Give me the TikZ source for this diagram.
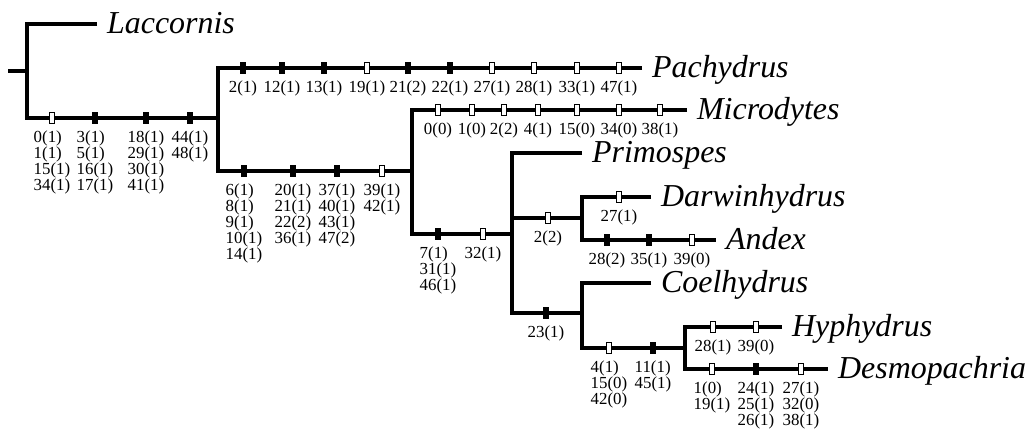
\documentclass[tikz,border=0pt]{standalone}
\usepackage{fontspec}
\setmainfont{Liberation Serif}
\usetikzlibrary{positioning}
\tikzset{branch/.style={line width=2.4pt}}
\begin{document}
\begin{tikzpicture}[x=.025cm,y=-.025cm,
  fillbar/.style={draw,fill=black,line width=.8pt,inner sep=0pt,minimum width=3.6pt,minimum height=7.6pt},
  openbar/.style={fillbar,fill=white},
  chars/.style={font=\fontsize{12}{11.4}\selectfont,align=left,inner sep=0pt,label distance=4.5pt},
  taxon/.style={anchor=west,inner xsep=7pt,inner ysep=0pt,font=\fontsize{22.7}{24}\selectfont\itshape,text height=15pt,text depth=2pt}]
\useasboundingbox (0,0) rectangle (1035,430);
\coordinate (base) at (8,71);
\coordinate (n0) at (27,71);
\coordinate (n1) at (218,118);
\coordinate (n2) at (412,171);
\coordinate (n3) at (512,234);
\coordinate (n4) at (582,218);
\coordinate (n5) at (582,313);
\coordinate (n6) at (685,348);
\node[taxon] (lac) at (97,24) {Laccornis};
\node[taxon] (pach) at (642,68) {Pachydrus};
\node[taxon] (micro) at (687,110) {Microdytes};
\node[taxon] (prim) at (582,153) {Primospes};
\node[taxon] (darw) at (651,197) {Darwinhydrus};
\node[taxon] (andex) at (716,240) {Andex};
\node[taxon] (coel) at (651,283) {Coelhydrus};
\node[taxon] (hyph) at (782,327) {Hyphydrus};
\node[taxon] (desmo) at (828,369) {Desmopachria};
\draw[branch] (base) -- (n0);
\draw[branch] (lac.west) -| (n0) |- (n1);
\draw[branch] (pach.west) -| (n1) |- (n2);
\draw[branch] (micro.west) -| (n2) |- (n3);
\draw[branch] (prim.west) -| (n3) |- (n5);
\draw[branch] (n3) |- (n4);
\draw[branch] (darw.west) -| (n4) |- (andex.west);
\draw[branch] (coel.west) -| (n5) |- (n6);
\draw[branch] (hyph.west) -| (n6) |- (desmo.west);
\foreach \x/\y/\s/\t [count=\i] in {
  52/118/openbar/{0(1)\\1(1)\\15(1)\\34(1)},95/118/fillbar/{3(1)\\5(1)\\16(1)\\17(1)},
  146/118/fillbar/{18(1)\\29(1)\\30(1)\\41(1)},190/118/fillbar/{44(1)\\48(1)},
  243/68/fillbar/2(1),282/68/fillbar/12(1),324/68/fillbar/13(1),367/68/openbar/19(1),
  408/68/fillbar/21(2),450/68/fillbar/22(1),492/68/openbar/27(1),534/68/openbar/28(1),
  577/68/openbar/33(1),619/68/openbar/47(1),
  244/171/fillbar/{6(1)\\8(1)\\9(1)\\10(1)\\14(1)},293/171/fillbar/{20(1)\\21(1)\\22(2)\\36(1)},
  337/171/fillbar/{37(1)\\40(1)\\43(1)\\47(2)},382/171/openbar/{39(1)\\42(1)},
  438/110/openbar/0(0),472/110/openbar/1(0),504/110/openbar/2(2),538/110/openbar/4(1),
  577/110/openbar/15(0),619/110/openbar/34(0),660/110/openbar/38(1),
  438/234/fillbar/{7(1)\\31(1)\\46(1)},483/234/openbar/32(1),
  548/218/openbar/2(2),619/197/openbar/27(1),
  607/240/fillbar/28(2),649/240/fillbar/35(1),692/240/openbar/39(0),
  546/313/fillbar/23(1),
  609/348/openbar/{4(1)\\15(0)\\42(0)},653/348/fillbar/{11(1)\\45(1)},
  713/327/openbar/28(1),756/327/openbar/39(0),
  712/369/openbar/{1(0)\\19(1)},756/369/fillbar/{24(1)\\25(1)\\26(1)},801/369/openbar/{27(1)\\32(0)\\38(1)}}
  \node[\s,label={[chars]below:\t}] (c\i) at (\x,\y) {};
\end{tikzpicture}
\end{document}
